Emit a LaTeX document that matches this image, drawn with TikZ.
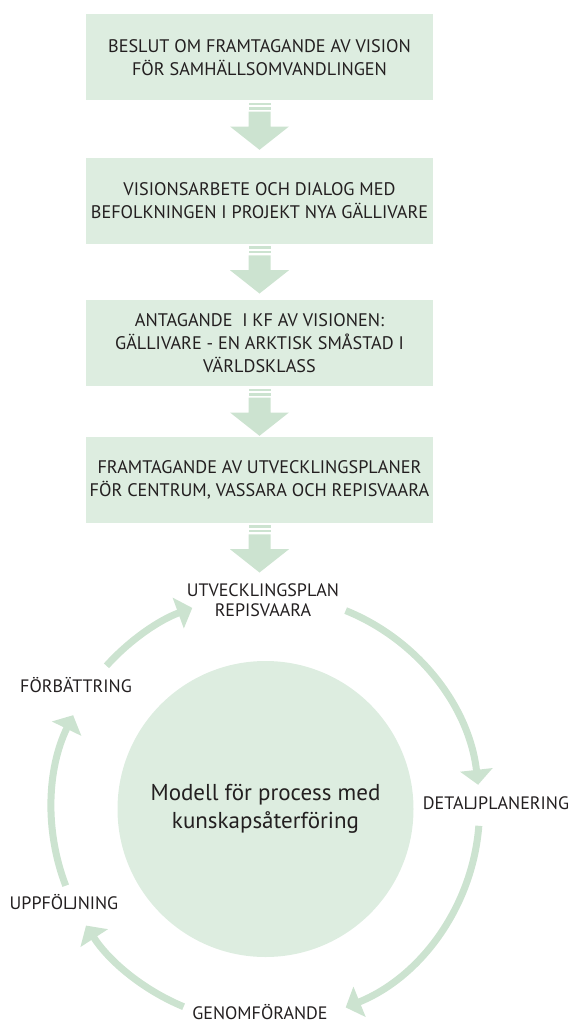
\documentclass[tikz,border=0pt]{standalone}
\usepackage{fontspec}
\setmainfont{PT Sans}
\usetikzlibrary{calc,arrows.meta}
\definecolor{boxgreen}{RGB}{221,237,224}
\definecolor{arrowgreen}{RGB}{204,227,208}
\definecolor{txt}{RGB}{35,31,32}
\tikzset{
  stepbox/.style={fill=boxgreen, minimum width=347pt, minimum height=86pt, align=center,
    text=txt, font=\fontsize{18.2}{23}\selectfont, inner sep=0pt},
  ringlabel/.style={text=txt, font=\fontsize{18}{20}\selectfont, align=center, inner sep=0pt},
  ringarrow/.style={draw=arrowgreen, line width=7pt, -{Triangle[width=32pt,length=15pt]}},
  arrowfill/.style={fill=arrowgreen}
}
\newcommand\flowarrow[1]{%
  \fill[arrowfill] ($(#1.south)+(-11,2)$) rectangle ($(#1.south)+(11,4.6)$);
  \fill[arrowfill] ($(#1.south)+(-11,6.6)$) rectangle ($(#1.south)+(11,9.2)$);
  \fill[arrowfill] ($(#1.south)+(-11,11.2)$) -- ($(#1.south)+(11,11.2)$) --
    ($(#1.south)+(11,26)$) -- ($(#1.south)+(29.5,26)$) -- ($(#1.south)+(0,49.3)$) --
    ($(#1.south)+(-29.5,26)$) -- ($(#1.south)+(-11,26)$) -- cycle;}
\begin{document}
\begin{tikzpicture}[x=1pt,y=-1pt]
\useasboundingbox (0,0) rectangle (573,1026);
\node[stepbox] (b1) at (259.5,57.3) {BESLUT OM FRAMTAGANDE AV VISION\\FÖR SAMHÄLLSOMVANDLINGEN};
\node[stepbox] (b2) at (259.5,201) {VISIONSARBETE OCH DIALOG MED\\BEFOLKNINGEN I PROJEKT NYA GÄLLIVARE};
\node[stepbox] (b3) at (259.5,343.3) {ANTAGANDE\ \ I KF AV VISIONEN:\\GÄLLIVARE - EN ARKTISK SMÅSTAD I\\VÄRLDSKLASS};
\node[stepbox] (b4) at (259.5,480) {FRAMTAGANDE AV UTVECKLINGSPLANER\\FÖR CENTRUM, VASSARA OCH REPISVAARA};
\flowarrow{b1}
\flowarrow{b2}
\flowarrow{b3}
\flowarrow{b4}
\node[circle, fill=boxgreen, minimum size=296pt, inner sep=0pt, align=center, text=txt,
  font=\fontsize{23}{28}\selectfont] (c) at (265.5,809) {Modell för process med\\kunskapsåterföring};
\node[ringlabel] (l1) at (263,600) {UTVECKLINGSPLAN\\REPISVAARA};
\node[ringlabel] (l2) at (496,803) {DETALJPLANERING};
\node[ringlabel] (l3) at (260,1012) {GENOMFÖRANDE};
\node[ringlabel] (l4) at (64,902) {UPPFÖLJNING};
\node[ringlabel] (l5) at (76,685) {FÖRBÄTTRING};
\draw[ringarrow] (c.center) ++(-68:214) arc[start angle=-68, end angle=-6.5, radius=214];
\draw[ringarrow] (c.center) ++(4.5:214) arc[start angle=4.5, end angle=68, radius=214];
\draw[ringarrow] (c.center) ++(112.5:214) arc[start angle=112.5, end angle=147, radius=214];
\draw[ringarrow] (c.center) ++(159:214) arc[start angle=159, end angle=206, radius=214];
\draw[ringarrow] (c.center) ++(222:214) arc[start angle=222, end angle=250, radius=214];
\end{tikzpicture}
\end{document}
